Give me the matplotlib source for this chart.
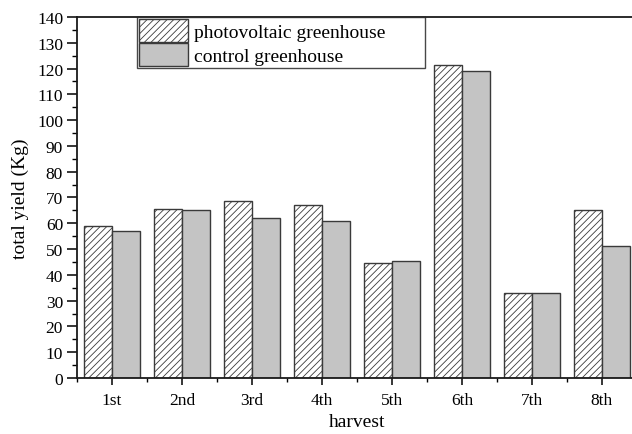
import numpy as np
import matplotlib
matplotlib.use("Agg")
import matplotlib.pyplot as plt
from matplotlib.ticker import MultipleLocator

plt.rcParams['font.family'] = ['Liberation Serif', 'DejaVu Serif']
plt.rcParams['hatch.linewidth'] = 0.6

# data
harvests = ['1st', '2nd', '3rd', '4th', '5th', '6th', '7th', '8th']
pv_yield = [59, 65.5, 68.5, 67, 44.5, 121.5, 33, 65]
control_yield = [57, 65, 62, 61, 45.2, 119, 33, 51]

fig = plt.figure(figsize=(6.32, 4.35), dpi=100)
ax = fig.add_axes([0.1218, 0.1287, 0.886, 0.83])

x = np.arange(len(harvests))
w = 0.4
edge = '#3a3a3a'
ax.bar(x - w / 2, pv_yield, w, facecolor='white', edgecolor=edge, hatch='/////',
       linewidth=1.0, label='photovoltaic greenhouse')
ax.bar(x + w / 2, control_yield, w, facecolor='#c4c4c4', edgecolor=edge,
       linewidth=1.0, label='control greenhouse')

ax.set_xlim(-0.5, 7.5)
ax.set_ylim(0, 140)
ax.set_xticks(x)
ax.set_xticklabels(harvests)
ax.xaxis.set_minor_locator(MultipleLocator(1, offset=0.5))
ax.yaxis.set_major_locator(MultipleLocator(10))
ax.yaxis.set_minor_locator(MultipleLocator(5))

for s in ax.spines.values():
    s.set_linewidth(1.3)
    s.set_color('#1a1a1a')

ax.tick_params(axis='y', which='major', direction='out', length=7, width=1.1, labelsize=12.5, pad=3)
ax.tick_params(axis='y', which='minor', direction='out', length=3.5, width=1.0)
ax.tick_params(axis='x', which='major', direction='out', length=5, width=1.1, labelsize=12.5, pad=5)
ax.tick_params(axis='x', which='minor', direction='out', length=3, width=1.0)

ax.set_xlabel('harvest', fontsize=14, labelpad=4)
ax.set_ylabel('total yield (Kg)', fontsize=14, labelpad=6)

# legend box spans a fixed width, wider than its text
leg = ax.legend(loc='upper left', bbox_to_anchor=(0.1071, 0.0, 0.514, 1.0),
                mode='expand', fontsize=14,
                frameon=True, fancybox=False, edgecolor='#1a1a1a',
                borderpad=0.12, labelspacing=0.02, handlelength=2.5,
                handleheight=1.45, handletextpad=0.3, borderaxespad=0)
leg.get_frame().set_linewidth(1.0)

fig.savefig('out.png', dpi=100)
